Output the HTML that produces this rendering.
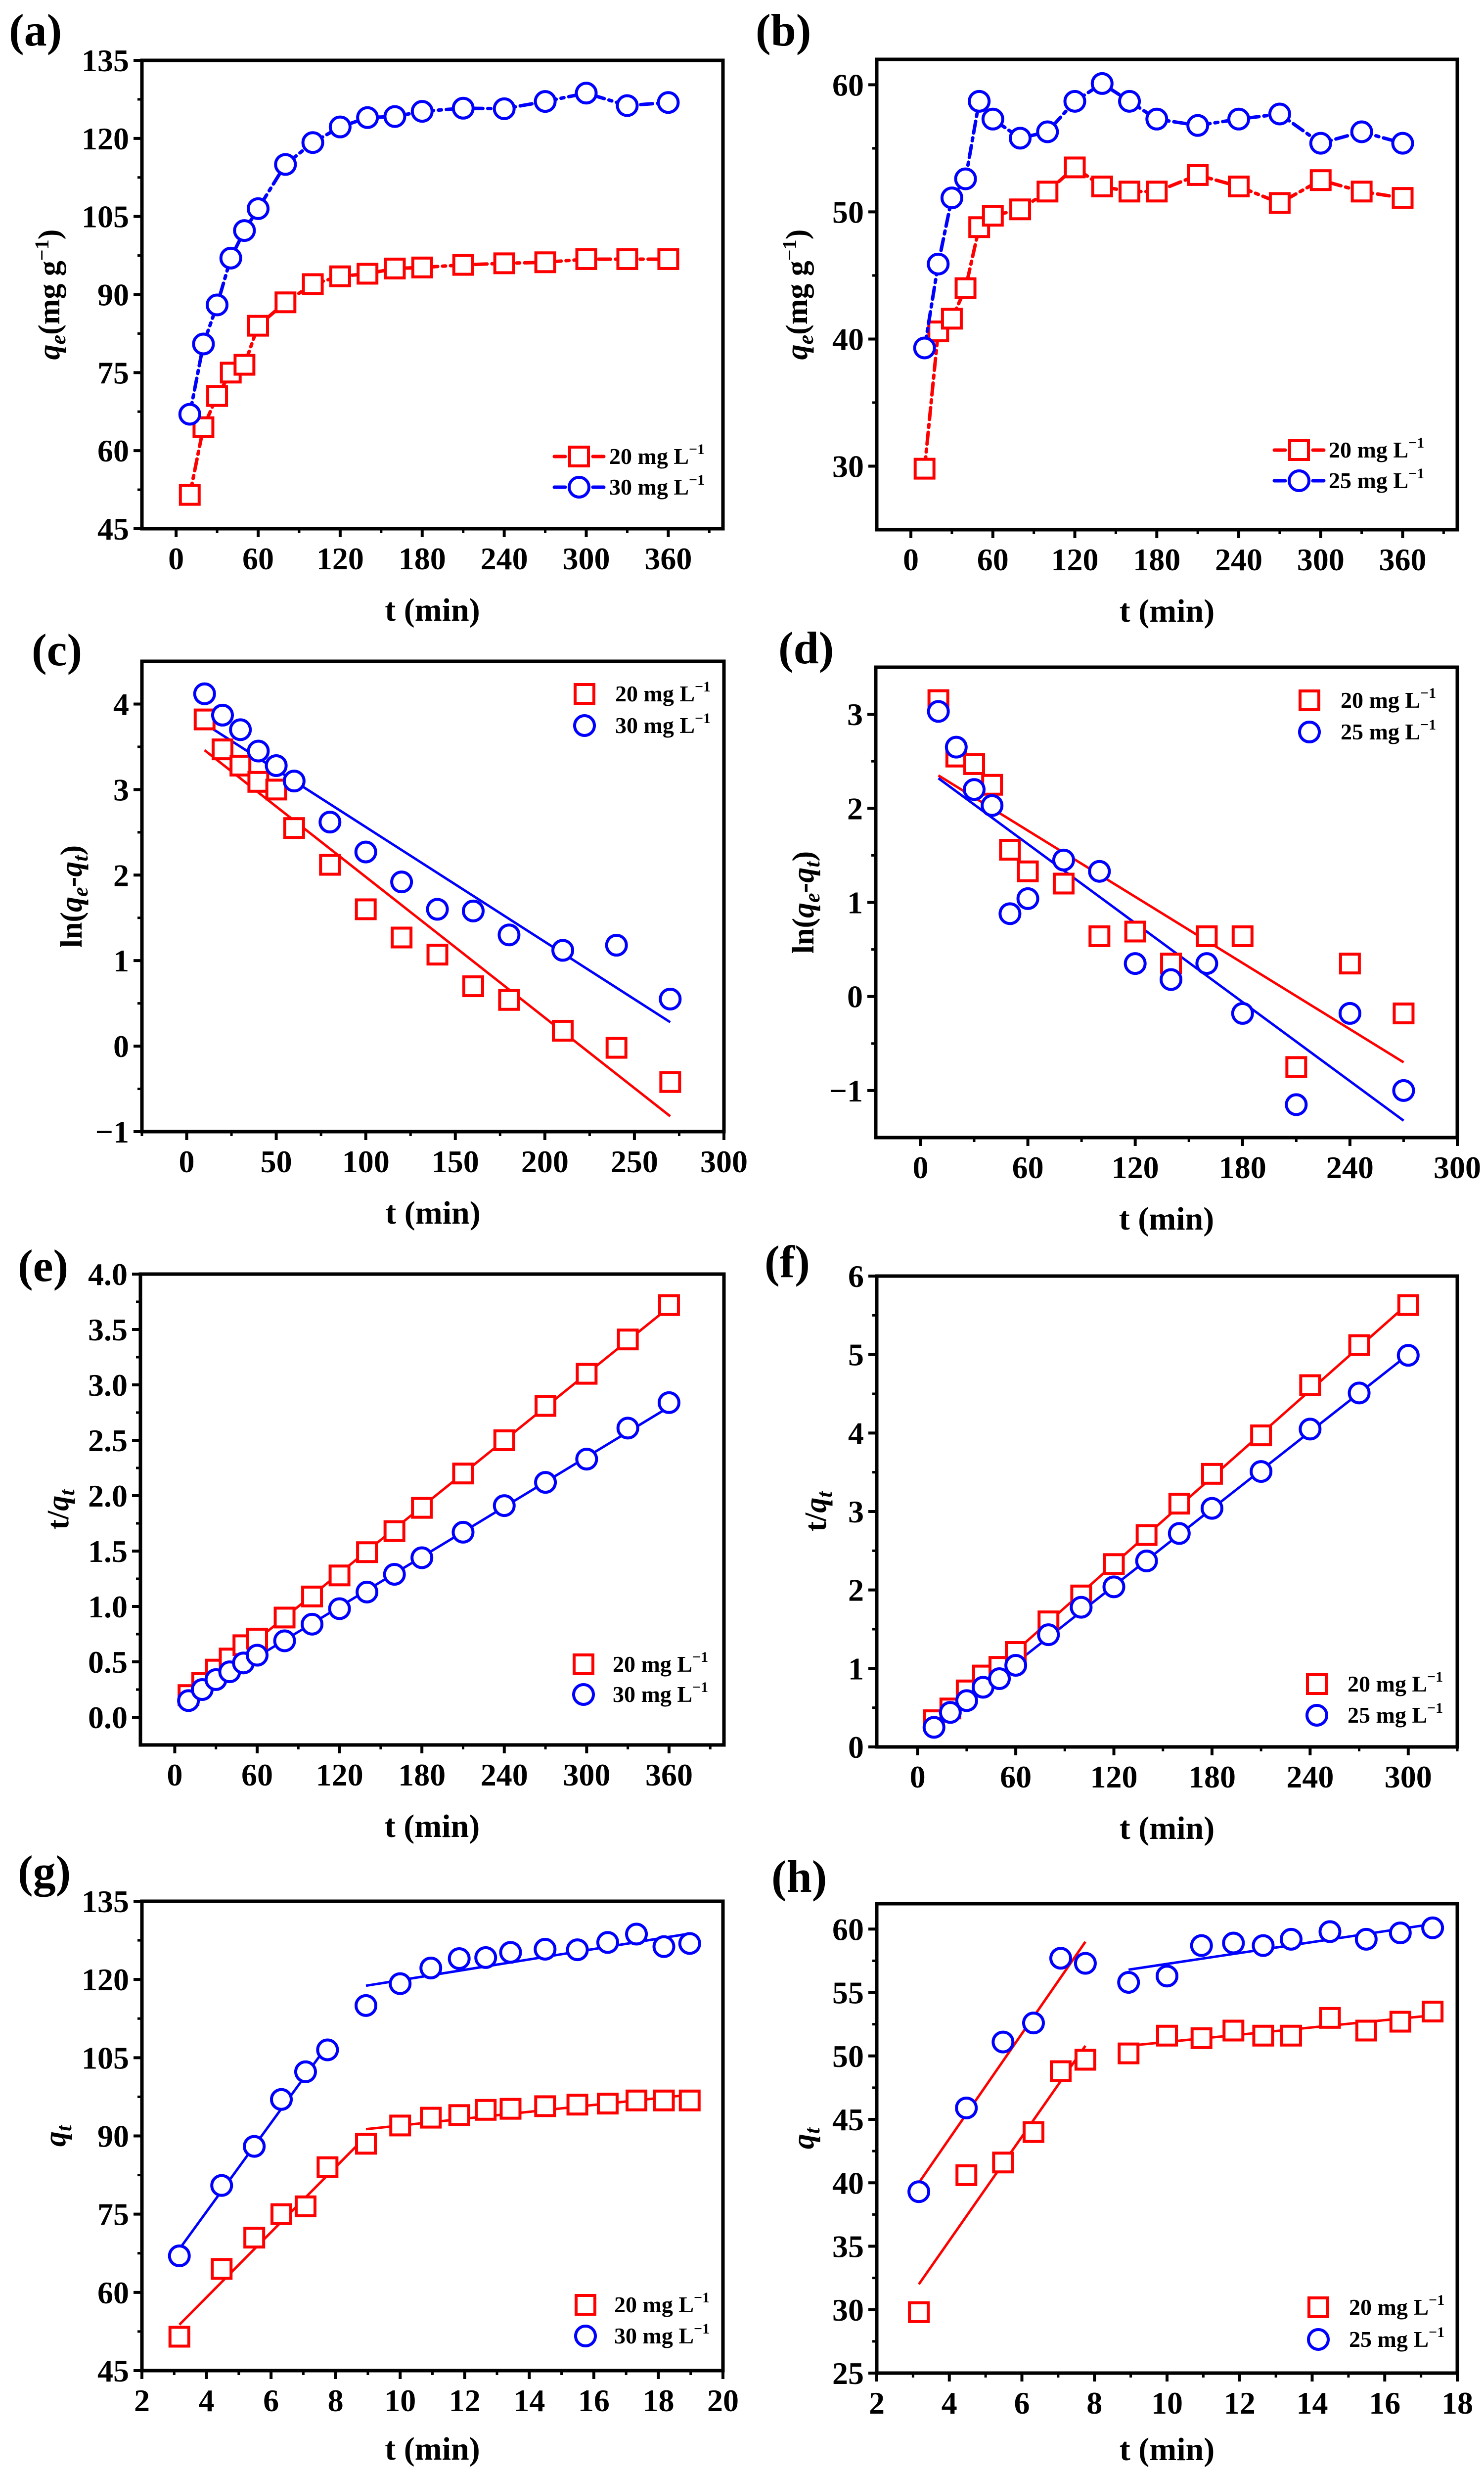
<!DOCTYPE html>
<html><head><meta charset="utf-8"><title>Adsorption kinetics panels</title>
<style>
html,body{margin:0;padding:0;background:#fff;width:3001px;height:5012px;overflow:hidden;}
svg{display:block;}
text{font-family:"Liberation Serif",serif;font-weight:bold;fill:#000;}
</style></head>
<body>
<svg id="fig" xmlns="http://www.w3.org/2000/svg" width="3001" height="5012" viewBox="0 0 3001 5012"></svg>
<script>
// ---- data ----
const tA = [10,20,30,40,50,60,80,100,120,140,160,180,210,240,270,300,330,360];
const aRed = [51.5,64.5,70.5,75,76.5,84,88.5,92,93.5,94,95,95.2,95.7,96,96.2,96.8,96.8,96.8];
const aBlue = [67,80.5,88,97,102.3,106.5,115,119.2,122.2,124,124.2,125.2,125.8,125.7,127.1,128.7,126.3,126.9];
const bRed = [29.8,40.6,41.6,44,48.8,49.7,50.2,51.6,53.5,52,51.6,51.6,52.9,52,50.7,52.5,51.6,51.1];
const bBlue = [39.3,45.9,51.1,52.6,58.7,57.3,55.8,56.3,58.7,60.1,58.7,57.3,56.8,57.3,57.7,55.4,56.3,55.4];
const tC = [10,20,30,40,50,60,80,100,120,140,160,180,210,240,270];
const cRed = [3.82,3.47,3.28,3.09,3.0,2.55,2.12,1.6,1.27,1.07,0.7,0.54,0.18,-0.02,-0.42];
const cBlue = [4.12,3.87,3.7,3.45,3.28,3.1,2.62,2.27,1.92,1.6,1.58,1.3,1.12,1.18,0.55];
const cFitRed = [3.46,-0.82];
const cFitBlue = [3.77,0.28];
const dRed = [3.15,2.55,2.47,2.25,1.56,1.33,1.2,0.64,0.69,0.35,0.64,0.64,-0.75,0.35,-0.18];
const dBlue = [3.03,2.65,2.2,2.03,0.88,1.04,1.45,1.33,0.35,0.18,0.35,-0.18,-1.15,-0.18,-1.0];
const dFitRed = [2.35,-0.7];
const dFitBlue = [2.32,-1.32];
const eRed = [0.2,0.31,0.43,0.53,0.65,0.71,0.9,1.09,1.28,1.49,1.68,1.89,2.2,2.5,2.81,3.1,3.41,3.72];
const eBlue = [0.15,0.25,0.34,0.41,0.49,0.56,0.69,0.84,0.98,1.13,1.29,1.44,1.67,1.91,2.12,2.33,2.61,2.84];
const eFitRed = [0.2,3.7];
const eFitBlue = [0.17,2.8];
const tF = [10,20,30,40,50,60,80,100,120,140,160,180,210,240,270,300];
const fRed = [0.34,0.49,0.72,0.91,1.02,1.21,1.6,1.93,2.33,2.7,3.1,3.48,3.97,4.61,5.12,5.63];
const fBlue = [0.25,0.44,0.59,0.76,0.87,1.04,1.43,1.78,2.04,2.37,2.72,3.04,3.51,4.05,4.51,4.99];
const fFitRed = [0.3,5.65];
const fFitBlue = [0.25,5.0];
const sqG = [3.16,4.47,5.48,6.32,7.07,7.75,8.94,10,10.95,11.83,12.65,13.42,14.49,15.49,16.43,17.32,18.17,18.97];
const gFitRed1 = [[3.16,53.8],[8.94,89.9]];
const gFitRed2 = [[8.94,91.3],[18.97,97.9]];
const gFitBlue1 = [[3.16,68.3],[7.75,107.4]];
const gFitBlue2 = [[8.94,118.8],[18.97,128.8]];
const sqH = [3.16,4.47,5.48,6.32,7.07,7.75,8.94,10,10.95,11.83,12.65,13.42,14.49,15.49,16.43,17.32];
const hRed = [29.8,40.6,41.6,44,48.8,49.7,50.2,51.6,51.4,52,51.6,51.6,53,52,52.7,53.5];
const hBlue = [39.3,45.9,51.1,52.6,57.7,57.3,55.8,56.3,58.7,58.9,58.7,59.2,59.8,59.2,59.7,60.1];
const hFitA = [[3.16,40],[7.75,59]];
const hFitB = [[3.16,32],[7.75,50.8]];
const hFitC = [[8.94,56.8],[17.32,60.4]];
const hFitD = [[8.94,50.8],[17.32,53.2]];
const xTicks360 = [0,60,120,180,240,300,360];
const xTicks300s50 = [0,50,100,150,200,250,300];
const xTicks300s60 = [0,60,120,180,240,300];
const xTicksG = [2,4,6,8,10,12,14,16,18,20];
const xTicksH = [2,4,6,8,10,12,14,16,18];
const yTicksA = [45,60,75,90,105,120,135];
const yTicksB = [30,40,50,60];
const yTicksC = [-1,0,1,2,3,4];
const yTicksD = [-1,0,1,2,3];
const yTicksE = ["0.0","0.5","1.0","1.5","2.0","2.5","3.0","3.5","4.0"];
const yTicksF = [0,1,2,3,4,5,6];
const yTicksH = [25,30,35,40,45,50,55,60];

const NS="http://www.w3.org/2000/svg";
const svg=document.getElementById('fig');
const RED="#ff0000", BLUE="#0000ff";
function mk(tag,attrs,parent){const e=document.createElementNS(NS,tag);for(const k in attrs)e.setAttribute(k,attrs[k]);(parent||svg).appendChild(e);return e;}

function panel(cfg){
  const g=mk('g',{});
  
  
  const X=v=>cfg.x0+(v-cfg.xmin)/(cfg.xmax-cfg.xmin)*(cfg.x1-cfg.x0);
  const Y=v=>cfg.y1-(v-cfg.ymin)/(cfg.ymax-cfg.ymin)*(cfg.y1-cfg.y0);
  cfg.X=X;cfg.Y=Y;cfg.g=g;
  const lab=mk('text',{x:cfg.lx,y:cfg.ly,'font-size':92},g);
  lab.textContent='('+cfg.id+')';
  
  
  const fr=mk('rect',{x:cfg.x0,y:cfg.y0,width:cfg.x1-cfg.x0,height:cfg.y1-cfg.y0,fill:'none',stroke:'#000','stroke-width':7},g);
  
  
  const ya=mk('g',{},g);
  
  
  cfg.yt.forEach((t,i)=>{const v=parseFloat(t);const y=Y(v);
    mk('line',{x1:cfg.x0-17,x2:cfg.x0,y1:y,y2:y,stroke:'#000','stroke-width':6},ya);
    const tx=mk('text',{x:cfg.x0-26,y:y+22,'font-size':64,'text-anchor':'end'},ya);
    tx.textContent=(v<0?'\u2212'+Math.abs(v):String(t));
    
    
    if(i<cfg.yt.length-1){const m=(v+parseFloat(cfg.yt[i+1]))/2;const my=Y(m);
      mk('line',{x1:cfg.x0-9,x2:cfg.x0,y1:my,y2:my,stroke:'#000','stroke-width':5},ya);}
  });
  if(cfg.yminor){cfg.yminor.forEach(v=>{const my=Y(v);mk('line',{x1:cfg.x0-9,x2:cfg.x0,y1:my,y2:my,stroke:'#000','stroke-width':5},ya);});}
  const xa=mk('g',{},g);
  
  
  cfg.xt.forEach((v,i)=>{const x=X(v);
    mk('line',{x1:x,x2:x,y1:cfg.y1,y2:cfg.y1+17,stroke:'#000','stroke-width':6},xa);
    const tx=mk('text',{x:x,y:cfg.y1+82,'font-size':64,'text-anchor':'middle'},xa);
    tx.textContent=String(v);
    
    
  });
  const step=cfg.xt[1]-cfg.xt[0];
  for(let v=cfg.xt[0]-step/2; v<=cfg.xmax+1e-9; v+=step){ if(v<cfg.xmin) continue; const x=X(v);
    mk('line',{x1:x,x2:x,y1:cfg.y1,y2:cfg.y1+9,stroke:'#000','stroke-width':5},xa);}
  const xt=mk('text',{x:(cfg.x0+cfg.x1)/2,y:cfg.y1+(cfg.xto||186),'font-size':66,'text-anchor':'middle'},g);
  xt.textContent='t (min)';
  
  
  const yt=mk('text',{transform:'translate('+cfg.ytx+','+((cfg.y0+cfg.y1)/2)+') rotate(-90)','font-size':62,'text-anchor':'middle'},g);
  yt.innerHTML=cfg.ytitle;
  
  
  return cfg;
}
function marker(p,type,x,y,color,parent,rx,ry){
  let e;
  if(type==='sq'){e=mk('rect',{x:x-19,y:y-19,width:38,height:38,fill:'#fff',stroke:color,'stroke-width':6},parent);}
  else {e=mk('ellipse',{cx:x,cy:y,rx:rx||20,ry:ry||20,fill:'#fff',stroke:color,'stroke-width':6},parent);}
  return e;
}
function series(p,xs,ys,type,color,name,dash){
  const g=mk('g',{},p.g);
  
  
  if(dash){
    const pts=xs.map((v,i)=>p.X(v)+','+p.Y(ys[i])).join(' ');
    const l=mk('polyline',{points:pts,fill:'none',stroke:color,'stroke-width':7,'stroke-dasharray':'24 10 6 10','stroke-linecap':'round'},g);
    
    
  }
  xs.forEach((v,i)=>{const m=marker(p,type,p.X(v),p.Y(ys[i]),color,g,p.rx,p.ry);
    
    
  });
}
function fit(p,xa,xb,ya,yb,color){
  const l=mk('line',{x1:p.X(xa),y1:p.Y(ya),x2:p.X(xb),y2:p.Y(yb),stroke:color,'stroke-width':5},p.g);
  
  
}
function legend(p,mx,tx,y1,y2,labels,withLine){
  const g=mk('g',{},p.g);
  
  
  [[y1,'sq',RED,labels[0]],[y2,'ci',BLUE,labels[1]]].forEach(r=>{
    const e=mk('g',{},g);
    
    
    if(withLine){mk('line',{x1:mx-50,x2:mx+50,y1:r[0],y2:r[0],stroke:r[2],'stroke-width':7,'stroke-dasharray':'22 56 22','stroke-linecap':'round'},e);}
    marker(p,r[1],mx,r[0],r[2],e);
    const t=mk('text',{x:tx,y:r[0]+15,'font-size':46},e);
    t.innerHTML=r[3]+' mg L<tspan dy="-20" font-size="30">\u22121</tspan>';
  });
}
const qe='<tspan font-style="italic">q</tspan><tspan font-style="italic" font-size="44" dy="12">e</tspan><tspan dy="-12">(mg g</tspan><tspan font-size="40" dy="-22">\u22121</tspan><tspan dy="22">)</tspan>';
const lnq='ln(<tspan font-style="italic">q</tspan><tspan font-style="italic" font-size="44" dy="12">e</tspan><tspan dy="-12">-</tspan><tspan font-style="italic">q</tspan><tspan font-style="italic" font-size="44" dy="12">t</tspan><tspan dy="-12">)</tspan>';
const tq='t/<tspan font-style="italic">q</tspan><tspan font-style="italic" font-size="44" dy="12">t</tspan>';
const qt='<tspan font-style="italic">q</tspan><tspan font-style="italic" font-size="44" dy="12">t</tspan>';

let p=panel({id:'a',x0:287,x1:1462,y0:122,y1:1069,xmin:-25,xmax:400,ymin:45,ymax:135,xt:xTicks360,yt:yTicksA,lx:18,ly:92,ytx:120,ytitle:qe});
series(p,tA,aRed,'sq',RED,'series-20mg',true);
series(p,tA,aBlue,'ci',BLUE,'series-30mg',true);
legend(p,1171,1232,923,985,['20','30'],true);

p=panel({id:'b',x0:1773,x1:2947,y0:120,y1:1071,xmin:-25,xmax:400,ymin:25,ymax:62,xt:xTicks360,yt:yTicksB,yminor:[35,45,55],lx:1528,ly:92,ytx:1632,ytitle:qe});
series(p,tA,bRed,'sq',RED,'series-20mg',true);
series(p,tA,bBlue,'ci',BLUE,'series-25mg',true);
legend(p,2627,2687,910,972,['20','25'],true);

p=panel({id:'c',x0:287,x1:1464,y0:1337,y1:2288,xmin:-25,xmax:300,ymin:-1,ymax:4.5,xt:xTicks300s50,yt:yTicksC,lx:64,ly:1345,ytx:165,ytitle:lnq});
fit(p,tC[0],tC[tC.length-1],cFitRed[0],cFitRed[1],RED);
fit(p,tC[0],tC[tC.length-1],cFitBlue[0],cFitBlue[1],BLUE);
series(p,tC,cRed,'sq',RED,'series-20mg');
series(p,tC,cBlue,'ci',BLUE,'series-30mg');
legend(p,1182,1244,1403,1467,['20','30'],false);

p=panel({id:'d',x0:1771,x1:2947,y0:1349,y1:2300,xmin:-25,xmax:300,ymin:-1.5,ymax:3.5,xt:xTicks300s60,yt:yTicksD,lx:1574,ly:1341,ytx:1645,ytitle:lnq});
fit(p,tC[0],tC[tC.length-1],dFitRed[0],dFitRed[1],RED);
fit(p,tC[0],tC[tC.length-1],dFitBlue[0],dFitBlue[1],BLUE);
series(p,tC,dRed,'sq',RED,'series-20mg');
series(p,tC,dBlue,'ci',BLUE,'series-25mg');
legend(p,2648,2711,1416,1480,['20','25'],false);

p=panel({id:'e',x0:284,x1:1464,y0:2576,y1:3528,xmin:-25,xmax:400,ymin:-0.25,ymax:4.0,xt:xTicks360,yt:yTicksE,lx:36,ly:2590,ytx:138,ytitle:tq});
fit(p,tA[0],tA[tA.length-1],eFitRed[0],eFitRed[1],RED);
fit(p,tA[0],tA[tA.length-1],eFitBlue[0],eFitBlue[1],BLUE);
series(p,tA,eRed,'sq',RED,'series-20mg');
series(p,tA,eBlue,'ci',BLUE,'series-30mg');
legend(p,1180,1239,3365,3426,['20','30'],false);

p=panel({id:'f',x0:1773,x1:2947,y0:2580,y1:3532,xmin:-25,xmax:330,ymin:0,ymax:6,xt:xTicks300s60,yt:yTicksF,lx:1546,ly:2582,ytx:1670,ytitle:tq});
fit(p,tF[0],tF[tF.length-1],fFitRed[0],fFitRed[1],RED);
fit(p,tF[0],tF[tF.length-1],fFitBlue[0],fFitBlue[1],BLUE);
series(p,tF,fRed,'sq',RED,'series-20mg');
series(p,tF,fBlue,'ci',BLUE,'series-25mg');
legend(p,2663,2725,3405,3468,['20','25'],false);

p=panel({id:'g',x0:287,x1:1462,y0:3844,y1:4793,xmin:2,xmax:20,ymin:45,ymax:135,xt:xTicksG,yt:yTicksA,lx:36,ly:3815,ytx:132,ytitle:qt,xto:180});
[gFitRed1,gFitRed2].forEach(s=>fit(p,s[0][0],s[1][0],s[0][1],s[1][1],RED));
[gFitBlue1,gFitBlue2].forEach(s=>fit(p,s[0][0],s[1][0],s[0][1],s[1][1],BLUE));
series(p,sqG,aRed,'sq',RED,'series-20mg');
series(p,sqG,aBlue,'ci',BLUE,'series-30mg');
legend(p,1184,1242,4660,4723,['20','30'],false);

p=panel({id:'h',x0:1773,x1:2947,y0:3849,y1:4798,xmin:2,xmax:18,ymin:25,ymax:62,xt:xTicksH,yt:yTicksH,lx:1560,ly:3825,ytx:1645,ytitle:qt,xto:176});
[hFitA,hFitB,hFitD].forEach(s=>fit(p,s[0][0],s[1][0],s[0][1],s[1][1],RED));
fit(p,hFitC[0][0],hFitC[1][0],hFitC[0][1],hFitC[1][1],BLUE);
series(p,sqH,hRed,'sq',RED,'series-20mg');
series(p,sqH,hBlue,'ci',BLUE,'series-25mg');
legend(p,2666,2728,4665,4730,['20','25'],false);
</script>
</body></html>
